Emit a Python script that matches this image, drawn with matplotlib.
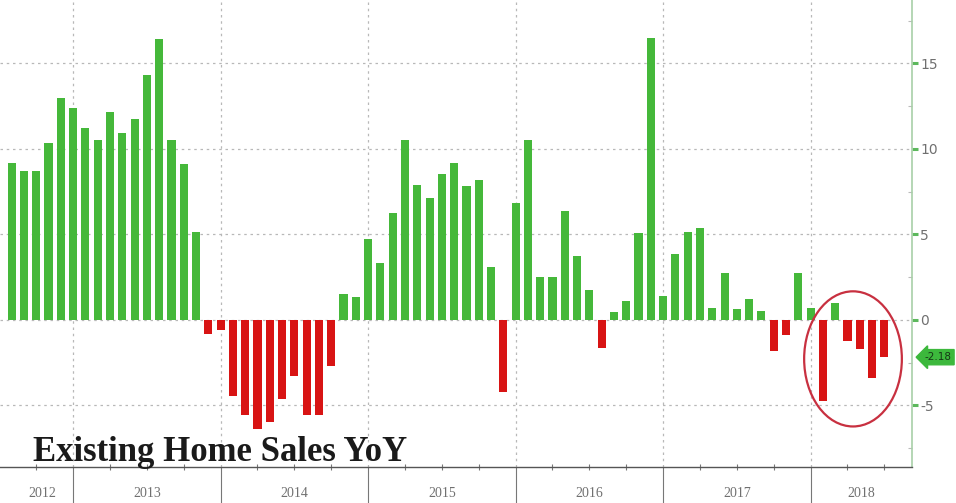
import matplotlib.pyplot as plt
import matplotlib.transforms as mtransforms
from matplotlib.patches import Ellipse
import numpy as np

plt.rcParams['axes.unicode_minus'] = False

# existing home sales, % change year over year, monthly from Jul 2012
yoy = [9.2, 8.7, 8.7, 10.35, 12.95, 12.4, 11.2, 10.5, 12.15, 10.9, 11.75, 14.3,
       16.4, 10.5, 9.1, 5.15, -0.8, -0.6, -4.45, -5.55, -6.35, -5.95, -4.6, -3.3,
       -5.55, -5.55, -2.7, 1.5, 1.35, 4.75, 3.3, 6.25, 10.5, 7.9, 7.15, 8.5,
       9.2, 7.8, 8.15, 3.1, -4.2, 6.85, 10.5, 2.5, 2.5, 6.35, 3.75, 1.75,
       -1.65, 0.45, 1.1, 5.1, 16.5, 1.4, 3.85, 5.15, 5.35, 0.7, 2.77, 0.66,
       1.25, 0.5, -1.8, -0.9, 2.77, 0.72, -4.75, 1.0, -1.23, -1.68, -3.38, -2.18]
start_month = 6          # Jul (0 = Jan)
years = [2012, 2013, 2014, 2015, 2016, 2017, 2018]
last_value = -2.18

green = '#45b83a'
red = '#d81414'

x = np.arange(len(yoy))
vals = np.array(yoy)
cols = [green if v >= 0 else red for v in vals]

fig = plt.figure(figsize=(9.56, 5.03), dpi=100)
ax = fig.add_axes([0, 36 / 503, 912 / 956, 467 / 503])

ax.bar(x, vals, width=0.66, color=cols, zorder=3)

ax.set_xlim(-0.95, 73.25)
ax.set_ylim(-8.6, 18.7)

# bars sit at month end, so December bars mark the year boundaries
dec = x[(start_month + x) % 12 == 11]
quarters = x[(start_month + x) % 3 == 2]
quarters = np.setdiff1d(quarters, dec)

ax.set_xticks(dec)
ax.set_xticklabels([])
ax.set_xticks(quarters, minor=True)
ax.tick_params(axis='x', which='major', direction='out', length=27, width=0.8,
               color='#777777')
ax.tick_params(axis='x', which='minor', direction='inout', length=5, width=0.8,
               color='#777777')

# year labels centred in each year's span
bounds = [ax.get_xlim()[0]] + list(dec) + [ax.get_xlim()[1]]
trans = mtransforms.blended_transform_factory(ax.transData, ax.transAxes)
for yr, a, b in zip(years, bounds[:-1], bounds[1:]):
    cx = (a + b) / 2 + (0.5 if yr == years[0] else 0)
    ax.text(cx, -0.056, str(yr), transform=trans, ha='center', va='center',
            fontsize=10, color='#707070', family='Liberation Serif')

ax.yaxis.tick_right()
ax.set_yticks([-5, 0, 5, 10, 15])
ax.set_yticks([-7.5, -2.5, 2.5, 7.5, 12.5, 17.5], minor=True)
ax.tick_params(axis='y', which='major', direction='out', length=4, width=2.2,
               color='#5cb85c', labelsize=10, labelcolor='#707070', pad=2)
ax.tick_params(axis='y', which='minor', direction='in', length=3, width=0.8,
               color='#bbbbbb')

ax.grid(True, which='major', axis='both', color='#b8b8b8', linestyle=(0, (2, 3)),
        linewidth=0.9, zorder=0)

for s in ['left', 'top']:
    ax.spines[s].set_visible(False)
ax.spines['right'].set_color('#a8cfa8')
ax.spines['right'].set_linewidth(1.2)
ax.spines['bottom'].set_color('#555555')
ax.spines['bottom'].set_linewidth(1.0)

# circle around the 2018 readings
ax.add_patch(Ellipse((68.45, -2.28), 7.95, 7.9, fill=False, edgecolor='#c83040',
                     linewidth=1.6, zorder=4))

# last value tag on the right axis
ax.annotate(f'{last_value:.2f}', xy=(1.0, last_value),
            xycoords=('axes fraction', 'data'), xytext=(9, 0),
            textcoords='offset points', ha='left', va='center', fontsize=7.5,
            color='#163816',
            bbox=dict(boxstyle='larrow,pad=0.25', fc='#3cb83c', ec='#3cb83c'),
            annotation_clip=False)

fig.text(33 / 956, (503 - 461) / 503, 'Existing Home Sales YoY',
         family='Liberation Serif', fontweight='bold', fontsize=25,
         color='#1a1a1a', va='baseline', ha='left')

fig.savefig('out.png', dpi=100)
